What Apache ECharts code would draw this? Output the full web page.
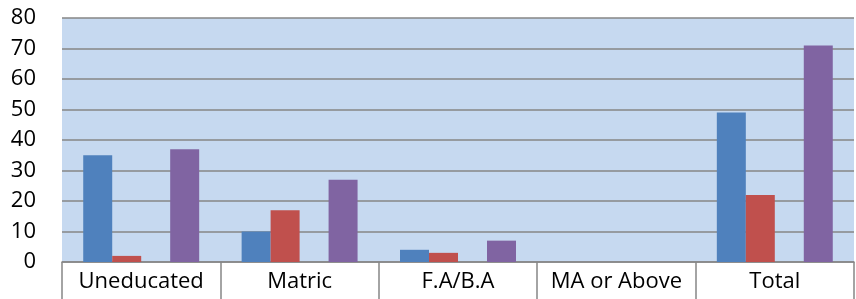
<!DOCTYPE html>
<html><head><meta charset="utf-8">
<script src="https://cdn.jsdelivr.net/npm/echarts@6/dist/echarts.min.js"></script>
<style>html,body{margin:0;padding:0;background:#fff}#c{width:856px;height:299px}</style>
</head><body><div id="c"></div>
<script>
const categories = ["Uneducated", "Matric", "F.A/B.A", "MA or Above", "Total"];
const seriesBlue = [35, 10, 4, 0, 49];
const seriesRed = [2, 17, 3, 0, 22];
const seriesGreen = [0, 0, 0, 0, 0];
const seriesPurple = [37, 27, 7, 0, 71];
const yTicks = [0, 10, 20, 30, 40, 50, 60, 70, 80];

const font = "'Open Sans', 'Liberation Sans', sans-serif";
const chart = echarts.init(document.getElementById('c'), null, {renderer: 'canvas'});
function bar(data, color) {
  return {type: 'bar', data: data, barGap: '0%', barCategoryGap: '26.8%',
    itemStyle: {color: color, borderWidth: 0}, animation: false};
}
chart.setOption({
  animation: false,
  grid: {left: 62, right: 2, top: 18, bottom: 37, show: true, backgroundColor: '#C6D9F0', borderWidth: 0},
  xAxis: {type: 'category', data: categories,
    axisLine: {lineStyle: {color: '#868686', width: 1.5}},
    axisTick: {show: true, length: 37, interval: 0, lineStyle: {color: '#868686', width: 1.5}},
    axisLabel: {color: '#000', fontFamily: font, fontSize: 22, margin: 9, interval: 0}},
  yAxis: {type: 'value', min: yTicks[0], max: yTicks[yTicks.length - 1], interval: 10,
    axisLine: {show: false}, axisTick: {show: false},
    splitLine: {lineStyle: {color: '#868686', width: 1.5}},
    axisLabel: {color: '#000', fontFamily: font, fontSize: 22, margin: 26}},
  series: [bar(seriesBlue, '#4F81BD'), bar(seriesRed, '#C0504D'), bar(seriesGreen, '#9BBB59'), bar(seriesPurple, '#8064A2')]
});
</script></body></html>
